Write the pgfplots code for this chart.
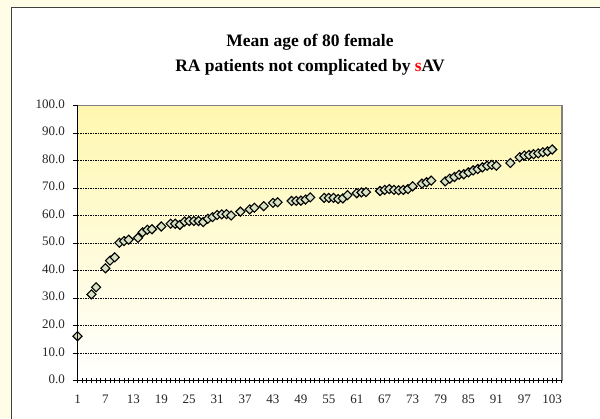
\documentclass[border=0pt]{standalone}
\usepackage{fontspec}
\setmainfont{Liberation Serif}
\usepackage{pgfplots}
\pgfplotsset{compat=1.18}
\definecolor{pagebg}{RGB}{255,253,230}
\definecolor{plottop}{RGB}{255,247,175}
\definecolor{markfill}{RGB}{214,226,194}
\definecolor{boxgray}{RGB}{128,128,128}

\begin{document}
\begin{tikzpicture}[x=1pt,y=1pt]
\fill[pagebg] (0,0) rectangle (600,418);
\begin{scope}
  \clip (0,0) rectangle (600,418);
  \filldraw[fill=white,draw=black!75,line width=0.8pt] (11.5,-10) rectangle (612,411);
\end{scope}
\useasboundingbox (0,0) rectangle (600,418);
\node[font=\bfseries\fontsize{17.5}{25}\selectfont, align=center] at (310,363)
  {Mean age of 80 female\\RA patients not complicated by \textcolor{red}{s}AV};
\begin{axis}[
  at={(77.5pt,37.5pt)}, anchor=south west,
  scale only axis, width=484.5pt, height=275pt,
  xmin=1, xmax=105.1, ymin=0, ymax=100,
  xtick={1,7,...,103}, minor xtick={1,...,105},
  ytick={0,10,...,100},
  xtick pos=left, ytick pos=left,
  yticklabel style={xshift=-4pt, /pgf/number format/fixed,
    /pgf/number format/fixed zerofill, /pgf/number format/precision=1},
  /pgf/number format/assume math mode=true,
  tick label style={font=\fontsize{13}{15}\selectfont, text=black!85},
  typeset ticklabels with strut,
  xticklabel style={yshift=-4pt},
  tick align=outside,
  major tick length=5pt, minor tick length=5pt,
  tick style={black, line width=0.8pt},
  xtick style={yshift=2.5pt},
  ymajorgrids,
  major grid style={black, line width=0.5pt, dash pattern=on 1.5pt off 1pt},
  axis line style={boxgray, line width=1.6pt},
  axis background/.style={top color=plottop, bottom color=white},
  clip=false,
  after end axis/.code={
    \draw[black, line width=1.7pt] (rel axis cs:0,1) -- (rel axis cs:0,0) -- (rel axis cs:1,0);
  },
]
\addplot[only marks, mark=square*, mark size=3.2pt,
  mark options={rotate=45, fill=markfill, draw=black, line width=1.1pt}]
coordinates {
(1,16.1)(4,31.3)(5,33.9)(7,40.8)(8,43.6)(9,44.8)(10,50.1)(11,50.7)(12,51.2)
(14,51.9)(15,53.9)(16,54.8)(17,55.0)(19,56.0)(21,57.0)(22,57.0)(23,56.6)
(24,57.8)(25,58.0)(26,58.0)(27,58.0)(28,57.6)(29,58.8)(30,59.4)(31,60.2)
(32,60.4)(33,60.5)(34,60.0)(36,61.4)(38,62.2)(39,62.8)(41,63.4)(43,64.6)
(44,64.8)(47,65.3)(48,65.3)(49,65.4)(50,65.8)(51,66.6)(54,66.4)(55,66.4)
(56,66.4)(57,66.0)(58,66.2)(59,67.4)(61,68.1)(62,68.4)(63,68.5)(66,68.9)
(67,69.3)(68,69.6)(69,69.3)(70,69.2)(71,69.3)(72,69.6)(73,70.6)(75,71.6)
(76,72.1)(77,72.7)(80,72.4)(81,73.4)(82,74.0)(83,74.8)(84,75.0)(85,75.7)
(86,76.4)(87,76.9)(88,77.5)(89,78.1)(90,78.4)(91,78.1)(94,79.1)(96,81.2)
(97,81.8)(98,82.0)(99,82.3)(100,82.6)(101,83.0)(102,83.3)(103,84.0)
};
\end{axis}
\end{tikzpicture}
\end{document}
